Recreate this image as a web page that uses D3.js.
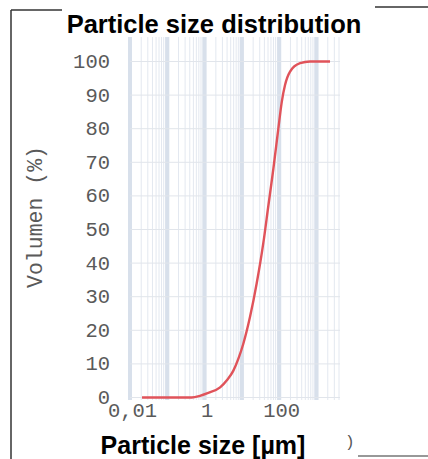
<!DOCTYPE html>
<html>
<head>
<meta charset="utf-8">
<script src="https://cdn.jsdelivr.net/npm/d3@7"></script>
<style>
   body { margin: 0; background: #fff; }
   svg { display: block; }
</style>
</head>
<body>
<div id="chart"></div>
<script>
// Cumulative volume curve
const sizes = [0.021, 0.1, 0.45, 0.75, 1.2, 2.6, 4.0, 5.9, 8.0, 10.9, 16.5, 24.9, 37.5, 51, 69.5, 94.6, 117, 143, 195, 362, 670, 2300];
const volume = [0, 0, 0, 0.5, 1.3, 3.0, 5.2, 8, 11.5, 16, 24, 34, 46, 57, 68, 80, 88, 93, 97, 99.5, 100, 100];
const yTicks = [0, 10, 20, 30, 40, 50, 60, 70, 80, 90, 100];
const xTickValues = [0.01, 1, 100];
const xTickLabels = ["0,01", "1", "100"];
const decades = [0.01, 0.1, 1, 10, 100, 1000];

const width = 428, height = 459;

const svg = d3.select("#chart")
   .append("svg")
   .attr("width", width)
   .attr("height", height);

// x: log scale, ~37.3 px per decade
const x = d3.scaleLog()
   .domain([0.01, 4000])
   .range([130, 339]);

const y = d3.scaleLinear()
   .domain([0, 100])
   .range([397.5, 61.5]);

const gridTop = 37, gridBottom = 400;

// Scanned frame lines
const frame = svg.append("g").attr("stroke", "#333").attr("fill", "none");
frame.append("line").attr("x1", 11).attr("x2", 11).attr("y1", 10).attr("y2", height).attr("stroke-width", 1.5);
frame.append("line").attr("x1", 11).attr("x2", 66).attr("y1", 10).attr("y2", 10).attr("stroke-width", 1.5);
frame.append("line").attr("x1", 375).attr("x2", width).attr("y1", 7).attr("y2", 7).attr("stroke-width", 1.5);
frame.append("line").attr("x1", 358).attr("x2", width).attr("y1", 456).attr("y2", 456).attr("stroke-width", 1.2);

// Minor vertical grid (2..9 within each decade)
const minor = [];
decades.forEach(d => {
   for (let k = 2; k <= 9; k++) {
      if (d * k <= 4000) minor.push(d * k);
   }
});

const grid = svg.append("g");
grid.selectAll("line.minor")
   .data(minor)
   .join("line")
   .attr("class", "minor")
   .attr("x1", d => x(d)).attr("x2", d => x(d))
   .attr("y1", gridTop).attr("y2", gridBottom)
   .attr("stroke", "#e3e8f0")
   .attr("stroke-width", 1);

grid.selectAll("line.decade")
   .data(decades)
   .join("line")
   .attr("class", "decade")
   .attr("x1", d => x(d)).attr("x2", d => x(d))
   .attr("y1", gridTop).attr("y2", gridBottom)
   .attr("stroke", "#d8e0eb")
   .attr("stroke-width", 4);

grid.selectAll("line.h")
   .data(yTicks)
   .join("line")
   .attr("class", "h")
   .attr("x1", 130).attr("x2", 340)
   .attr("y1", d => y(d)).attr("y2", d => y(d))
   .attr("stroke", "#e1e5eb")
   .attr("stroke-width", 1);

// Y tick labels
svg.append("g")
   .selectAll("text")
   .data(yTicks)
   .join("text")
   .attr("x", 110)
   .attr("y", d => y(d) + 6.5)
   .attr("text-anchor", "end")
   .attr("font-family", "Liberation Mono, monospace")
   .attr("font-size", 20.5)
   .attr("fill", "#5a5a5a")
   .text(d => d);

// X tick labels
svg.append("g")
   .selectAll("text")
   .data(xTickValues)
   .join("text")
   .attr("x", d => x(d) + 2.5)
   .attr("y", 417)
   .attr("text-anchor", "middle")
   .attr("font-family", "Liberation Mono, monospace")
   .attr("font-size", 20.5)
   .attr("fill", "#5a5a5a")
   .text((d, i) => xTickLabels[i]);

// Y axis title
svg.append("text")
   .attr("transform", "translate(42,217) rotate(-90)")
   .attr("text-anchor", "middle")
   .attr("font-family", "Liberation Mono, monospace")
   .attr("font-size", 21.5)
   .attr("fill", "#5a5a5a")
   .text("Volumen (%)");

// Curve
const line = d3.line()
   .x((d, i) => x(sizes[i]))
   .y(d => y(d))
   .curve(d3.curveMonotoneX);

svg.append("path")
   .datum(volume)
   .attr("fill", "none")
   .attr("stroke", "#e0535a")
   .attr("stroke-width", 2.4)
   .attr("d", line);

// Title, on a white patch over the frame
svg.append("rect")
   .attr("x", 62).attr("y", 0).attr("width", 312).attr("height", 36)
   .attr("fill", "#fff");

svg.append("text")
   .attr("x", 214)
   .attr("y", 33)
   .attr("text-anchor", "middle")
   .attr("font-family", "Liberation Sans, Arial, sans-serif")
   .attr("font-weight", "bold")
   .attr("font-size", 25.5)
   .attr("fill", "#000")
   .text("Particle size distribution");

svg.append("text")
   .attr("x", 203)
   .attr("y", 454)
   .attr("text-anchor", "middle")
   .attr("font-family", "Liberation Sans, Arial, sans-serif")
   .attr("font-weight", "bold")
   .attr("font-size", 25)
   .attr("fill", "#000")
   .text("Particle size [µm]");

svg.append("text")
   .attr("x", 345)
   .attr("y", 447)
   .attr("font-family", "Liberation Mono, monospace")
   .attr("font-size", 16)
   .attr("fill", "#555")
   .text(")");
</script>
</body>
</html>
